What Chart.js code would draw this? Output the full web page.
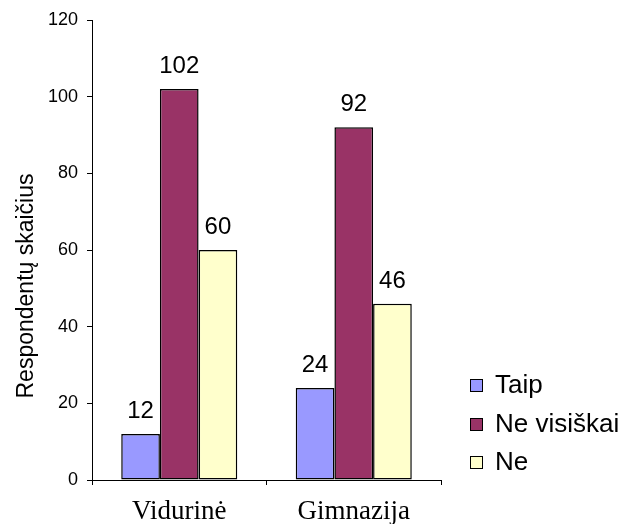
<!DOCTYPE html>
<html lang="lt">
<head>
  <meta charset="UTF-8">
  <title>Respondentų skaičius</title>
  <script src="https://cdn.jsdelivr.net/npm/chart.js"></script>
  <style>
    html, body { margin: 0; padding: 0; background: #fff; }
  </style>
</head>
<body>
  <canvas id="chart" width="626" height="524"></canvas>

  <script>
    // Duomenys
    const kategorijos = ['Vidurinė', 'Gimnazija'];
    const serijos = ['Taip', 'Ne visiškai', 'Ne'];
    const taip = [12, 24];
    const neVisiskai = [102, 92];
    const ne = [60, 46];
    const spalvos = ['#9999FF', '#993366', '#FFFFCC'];
    const asiesPavadinimas = 'Respondentų skaičius';

    // Reikšmės virš stulpelių
    const reiksmes = {
      id: 'reiksmes',
      afterDatasetsDraw(chart) {
        const ctx = chart.ctx;
        ctx.save();
        ctx.font = '24px "Liberation Sans", Arial, sans-serif';
        ctx.fillStyle = '#000';
        ctx.textAlign = 'center';
        ctx.textBaseline = 'alphabetic';
        chart.data.datasets.forEach((ds, i) => {
          chart.getDatasetMeta(i).data.forEach((bar, j) => {
            ctx.fillText(ds.data[j], bar.x, bar.y - 16);
          });
        });
        ctx.restore();
      }
    };

    // Ašies pavadinimas ir legenda
    const priedai = {
      id: 'priedai',
      afterDraw(chart) {
        const ctx = chart.ctx;
        ctx.save();
        ctx.fillStyle = '#000';
        ctx.font = '23px "Liberation Sans", Arial, sans-serif';
        ctx.translate(33, 286);
        ctx.rotate(-Math.PI / 2);
        ctx.textAlign = 'center';
        ctx.textBaseline = 'alphabetic';
        ctx.fillText(asiesPavadinimas, 0, 0);
        ctx.restore();

        ctx.save();
        ctx.font = '26px "Liberation Sans", Arial, sans-serif';
        ctx.textBaseline = 'middle';
        ctx.lineWidth = 1;
        chart.data.datasets.forEach((ds, i) => {
          const y = 385 + i * 38.5;
          const top = Math.round(y - 6) + 0.5;
          ctx.fillStyle = ds.backgroundColor;
          ctx.fillRect(470.5, top, 12, 12);
          ctx.strokeStyle = '#000';
          ctx.strokeRect(470.5, top, 12, 12);
          ctx.fillStyle = '#000';
          ctx.fillText(ds.label, 495, y + 1);
        });
        ctx.restore();
      }
    };

    new Chart(document.getElementById('chart'), {
      type: 'bar',
      data: {
        labels: kategorijos,
        datasets: [
          { label: serijos[0], data: taip, backgroundColor: spalvos[0] },
          { label: serijos[1], data: neVisiskai, backgroundColor: spalvos[1] },
          { label: serijos[2], data: ne, backgroundColor: spalvos[2] }
        ].map(d => Object.assign(d, {
          borderColor: '#000',
          borderWidth: 1.5,
          borderSkipped: false,
          categoryPercentage: 0.665,
          barPercentage: 1
        }))
      },
      options: {
        responsive: false,
        animation: false,
        layout: { padding: { left: 0, right: 185, top: 20, bottom: 0 } },
        plugins: {
          legend: { display: false },
          tooltip: { enabled: false }
        },
        scales: {
          x: {
            afterFit: s => { s.height = 44; },
            grid: {
              drawOnChartArea: false,
              tickLength: 5,
              color: '#000'
            },
            border: { color: '#000' },
            ticks: {
              color: '#000',
              padding: 11,
              font: { family: '"Liberation Serif", "Times New Roman", serif', size: 27 }
            }
          },
          y: {
            min: 0,
            max: 120,
            afterFit: s => { s.width = 92; },
            grid: {
              drawOnChartArea: false,
              tickLength: 5,
              color: '#000'
            },
            border: { color: '#000' },
            ticks: {
              stepSize: 20,
              color: '#000',
              padding: 9,
              font: { family: '"Liberation Sans", Arial, sans-serif', size: 18 }
            }
          }
        }
      },
      plugins: [reiksmes, priedai]
    });
  </script>
</body>
</html>
